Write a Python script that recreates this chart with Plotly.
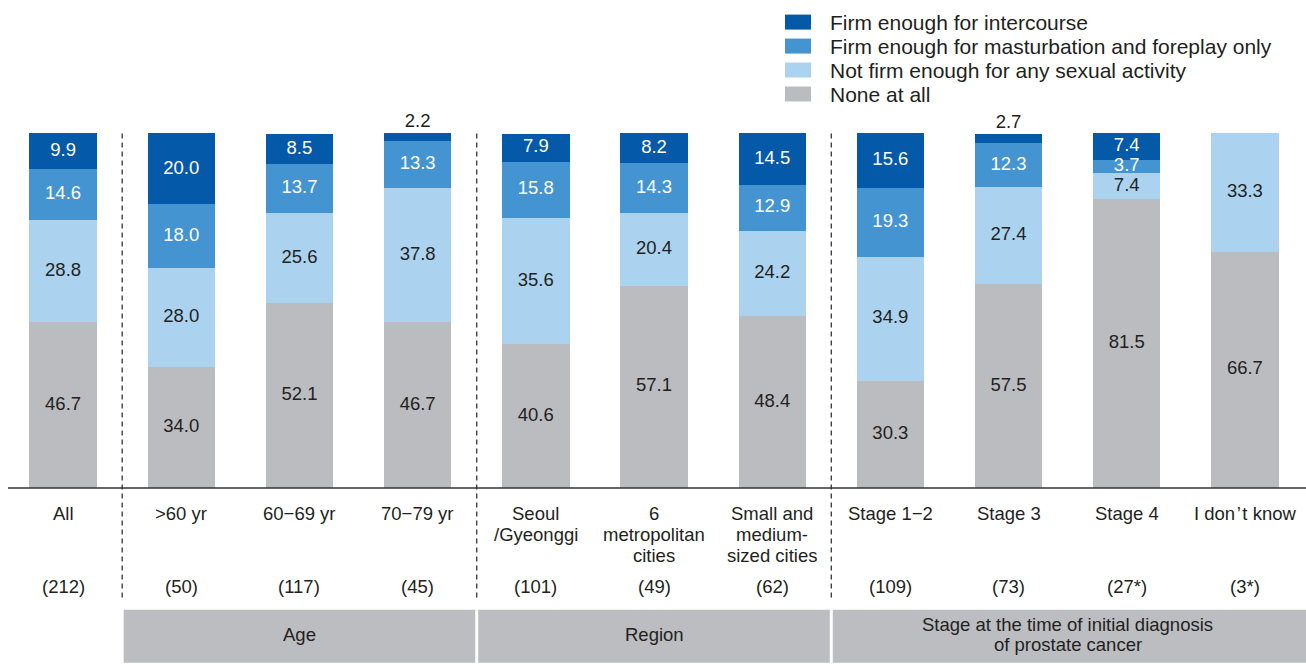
import plotly.graph_objects as go

# ---- data -----------------------------------------------------------------
categories = [
    "All", ">60 yr", "60\u221269 yr", "70\u221279 yr",
    "Seoul<br>/Gyeonggi", "6<br>metropolitan<br>cities", "Small and<br>medium-<br>sized cities",
    "Stage 1\u22122", "Stage 3", "Stage 4", "I don\u200a\u2019\u200at know",
]
sample_sizes = ["(212)", "(50)", "(117)", "(45)", "(101)", "(49)", "(62)",
                "(109)", "(73)", "(27*)", "(3*)"]

none_at_all = [46.7, 34.0, 52.1, 46.7, 40.6, 57.1, 48.4, 30.3, 57.5, 81.5, 66.7]
not_firm = [28.8, 28.0, 25.6, 37.8, 35.6, 20.4, 24.2, 34.9, 27.4, 7.4, 33.3]
foreplay_only = [14.6, 18.0, 13.7, 13.3, 15.8, 14.3, 12.9, 19.3, 12.3, 3.7, 0]
intercourse = [9.9, 20.0, 8.5, 2.2, 7.9, 8.2, 14.5, 15.6, 2.7, 7.4, 0]

series_names = [
    "None at all",
    "Not firm enough for any sexual activity",
    "Firm enough for masturbation and foreplay only",
    "Firm enough for intercourse",
]
series_values = [none_at_all, not_firm, foreplay_only, intercourse]
series_colors = ["#bbbcc0", "#abd3f0", "#4494d1", "#0559a9"]
label_colors = ["#231f20", "#231f20", "#ffffff", "#ffffff"]

groups = [("Age", 0.5, 3.5), ("Region", 3.5, 6.5),
          ("Stage at the time of initial diagnosis<br>of prostate cancer", 6.5, 10.5)]
dividers = [0.5, 3.5, 6.5]

# ---- geometry helpers -------------------------------------------------------
W, H = 1306, 665
Y_RANGE = [0, 110]            # headroom above 100 % for small top-segment labels
BASE_PX, TOP100_PX = 488, 133  # pixel rows of 0 % and 100 %
UNIT_PX = (BASE_PX - TOP100_PX) / 100
M_L, M_R, M_B = 4, 2, H - BASE_PX
M_T = TOP100_PX - (Y_RANGE[1] - 100) * UNIT_PX
PLOT_W = W - M_L - M_R
PLOT_H = H - M_T - M_B
X_RANGE = [-0.5, 10.5]


def px_x(px):
    return (px - M_L) / PLOT_W


def px_y(py):
    return (BASE_PX - py) / PLOT_H


def cat_x(pos):
    return (pos - X_RANGE[0]) / (X_RANGE[1] - X_RANGE[0])


FONT = "Liberation Sans, Arial, Helvetica, sans-serif"
TXT = "#231f20"
LABEL_SIZE = 18.5

xs = list(range(len(categories)))
fig = go.Figure()

# stacked bars
for name, vals, col in zip(series_names, series_values, series_colors):
    fig.add_trace(go.Bar(
        x=xs, y=vals, name=name, marker=dict(color=col, line=dict(width=0)),
        width=0.57, hoverinfo="skip",
    ))

shapes = []
annotations = []

# value labels centred in each segment (tiny top segments go above the bar)
base = [0.0] * len(xs)
for vals, tcol in zip(series_values, label_colors):
    ys, texts, cols = [], [], []
    for i, v in enumerate(vals):
        if v <= 0:
            ys.append(None)
            texts.append("")
            cols.append(tcol)
        elif v < 3:
            ys.append(base[i] + v + 3.0)
            texts.append(f"{v:.1f}")
            cols.append(TXT)
        else:
            ys.append(base[i] + v / 2)
            texts.append(f"{v:.1f}")
            cols.append(tcol)
        base[i] += v
    fig.add_trace(go.Scatter(
        x=xs, y=ys, mode="text", text=texts,
        textfont=dict(family=FONT, size=18.5, color=cols),
        cliponaxis=False, hoverinfo="skip", showlegend=False,
    ))

# baseline
shapes.append(dict(type="line", xref="paper", yref="paper",
                   x0=px_x(8), x1=px_x(1306), y0=0, y1=0,
                   line=dict(color="#333333", width=1.5)))

# dashed group dividers
for d in dividers:
    shapes.append(dict(type="line", xref="paper", yref="paper",
                       x0=cat_x(d), x1=cat_x(d), y0=px_y(TOP100_PX), y1=px_y(598),
                       line=dict(color="#333333", width=1.3, dash="5px,4px")))


def add_lines(text, x, xref, first_py, spacing, size):
    """Place each line of a multi-line label separately for tight line spacing."""
    for j, line in enumerate(text.split("<br>")):
        annotations.append(dict(x=x, xref=xref, y=px_y(first_py + j * spacing), yref="paper",
                                text=line, showarrow=False, xanchor="center", yanchor="middle",
                                font=dict(family=FONT, size=size, color=TXT)))


# category labels and sample sizes
for i, (c, n) in enumerate(zip(categories, sample_sizes)):
    add_lines(c, i, "x", 514, 21, LABEL_SIZE)
    add_lines(n, i, "x", 587, 21, LABEL_SIZE)

# group boxes
for gi, (label, a, b) in enumerate(groups):
    x0 = cat_x(a) + 1.5 / PLOT_W
    x1 = cat_x(b) - 1.5 / PLOT_W if gi < len(groups) - 1 else px_x(1306)
    shapes.append(dict(type="rect", xref="paper", yref="paper",
                       x0=x0, x1=x1, y0=px_y(610), y1=px_y(663),
                       fillcolor="#bcbdc1", line=dict(width=0), layer="below"))
    n_lines = label.count("<br>") + 1
    first = 635 - (n_lines - 1) * 20 / 2
    add_lines(label, (cat_x(a) + cat_x(b)) / 2, "paper", first, 20, LABEL_SIZE)

# legend (top to bottom: darkest first)
legend_rows = [21.5, 45.5, 69.5, 93.5]
for row_y, name, col in zip(legend_rows, series_names[::-1], series_colors[::-1]):
    shapes.append(dict(type="rect", xref="paper", yref="paper",
                       x0=px_x(785), x1=px_x(811), y0=px_y(row_y - 7.5), y1=px_y(row_y + 7.5),
                       fillcolor=col, line=dict(width=0)))
    annotations.append(dict(x=px_x(828), xref="paper", y=px_y(row_y + 0.5), yref="paper",
                            text=name, showarrow=False, xanchor="left", yanchor="middle",
                            font=dict(family=FONT, size=21, color=TXT)))

fig.update_layout(
    width=W, height=H,
    margin=dict(l=M_L, r=M_R, t=M_T, b=M_B, pad=0),
    barmode="stack",
    showlegend=False,
    plot_bgcolor="white", paper_bgcolor="white",
    xaxis=dict(range=X_RANGE, visible=False, fixedrange=True),
    yaxis=dict(range=Y_RANGE, visible=False, fixedrange=True),
    shapes=shapes,
    annotations=annotations,
    font=dict(family=FONT, color=TXT),
)

fig.write_html("out.html")
